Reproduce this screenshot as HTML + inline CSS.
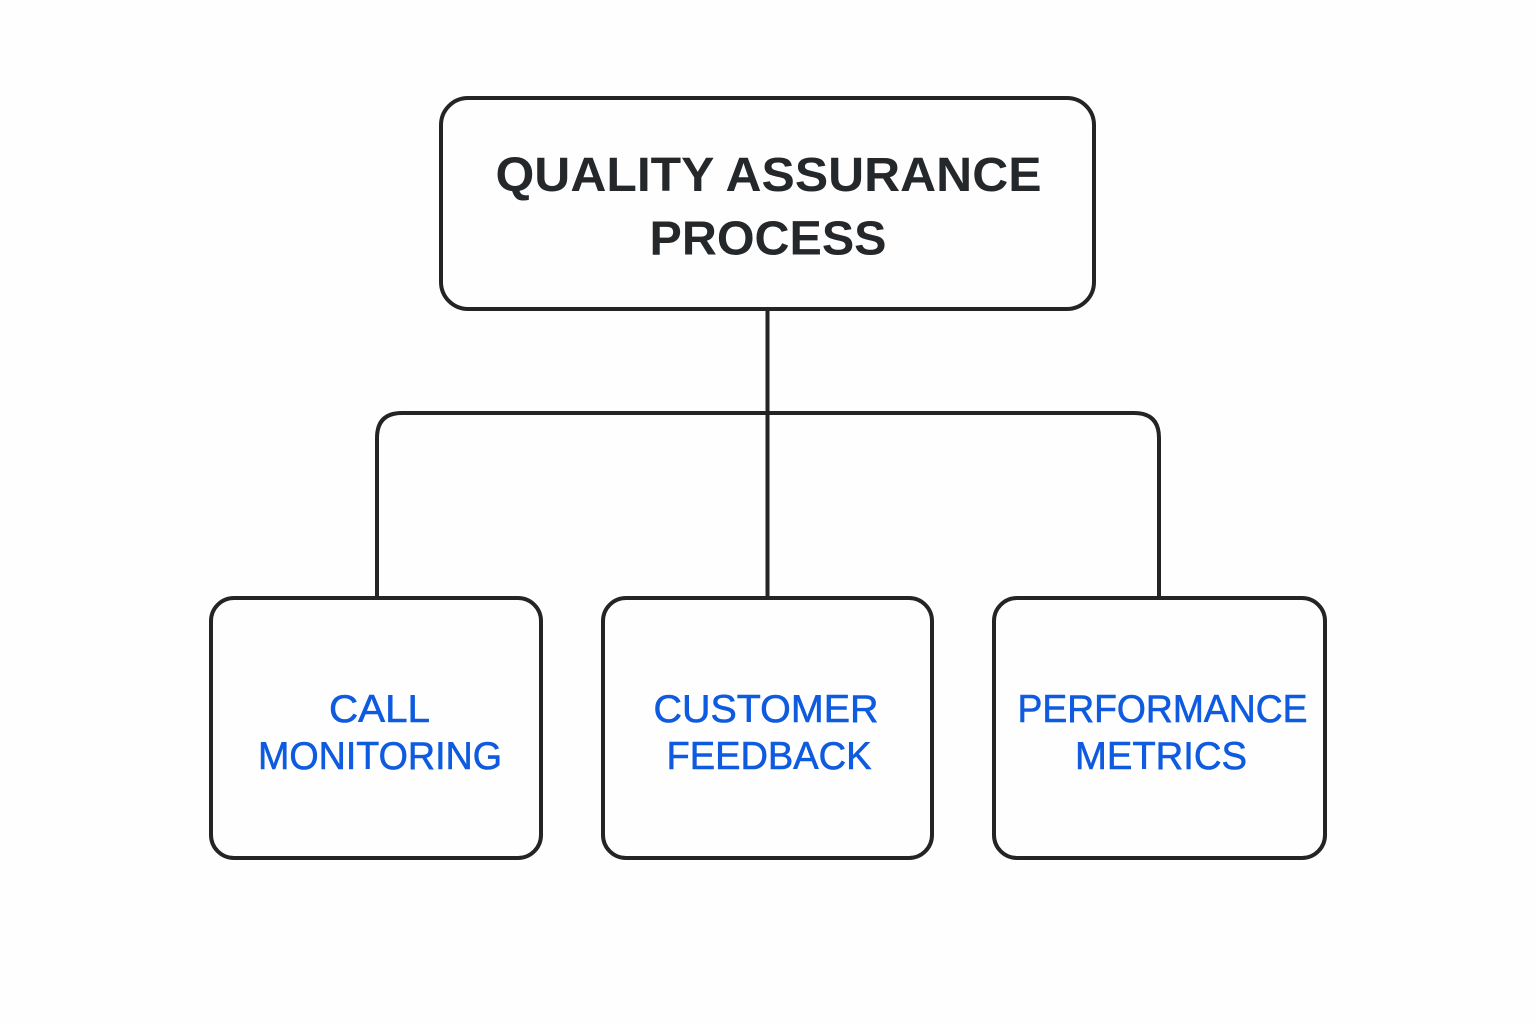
<!DOCTYPE html>
<html>
<head>
<meta charset="utf-8">
<style>
html,body{margin:0;padding:0;background:#fefefe;}
svg{display:block;}
text{font-family:"Liberation Sans",sans-serif;text-anchor:middle;}
</style>
</head>
<body>
<svg width="1536" height="1024" viewBox="0 0 1536 1024" xmlns="http://www.w3.org/2000/svg">
<rect width="1536" height="1024" fill="#fefefe"/>
<g fill="none" stroke="#222426" stroke-width="4">
<rect x="441" y="98" width="653" height="211" rx="27"/>
<rect x="211" y="598" width="330" height="260" rx="23"/>
<rect x="603" y="598" width="329" height="260" rx="23"/>
<rect x="994" y="598" width="331" height="260" rx="23"/>
<path d="M767.500 309V598"/>
<path d="M377 598V438Q377 413 402 413H1134Q1159 413 1159 438V598"/>
</g>
<g font-weight="700" font-size="48" fill="#25282b">
<text x="768.500" y="191" textLength="546" lengthAdjust="spacingAndGlyphs">QUALITY ASSURANCE</text>
<text x="768" y="254.500" textLength="237" lengthAdjust="spacingAndGlyphs">PROCESS</text>
</g>
<g font-size="39" fill="#0f5be0" stroke="#0f5be0" stroke-width="0.6">
<text x="379.500" y="722" textLength="101" lengthAdjust="spacingAndGlyphs">CALL</text>
<text x="380" y="769" textLength="244" lengthAdjust="spacingAndGlyphs">MONITORING</text>
<text x="766" y="722" textLength="225" lengthAdjust="spacingAndGlyphs">CUSTOMER</text>
<text x="769" y="769" textLength="205" lengthAdjust="spacingAndGlyphs">FEEDBACK</text>
<text x="1162.500" y="722" textLength="290" lengthAdjust="spacingAndGlyphs">PERFORMANCE</text>
<text x="1161" y="769" textLength="172" lengthAdjust="spacingAndGlyphs">METRICS</text>
</g>
</svg>
</body>
</html>
